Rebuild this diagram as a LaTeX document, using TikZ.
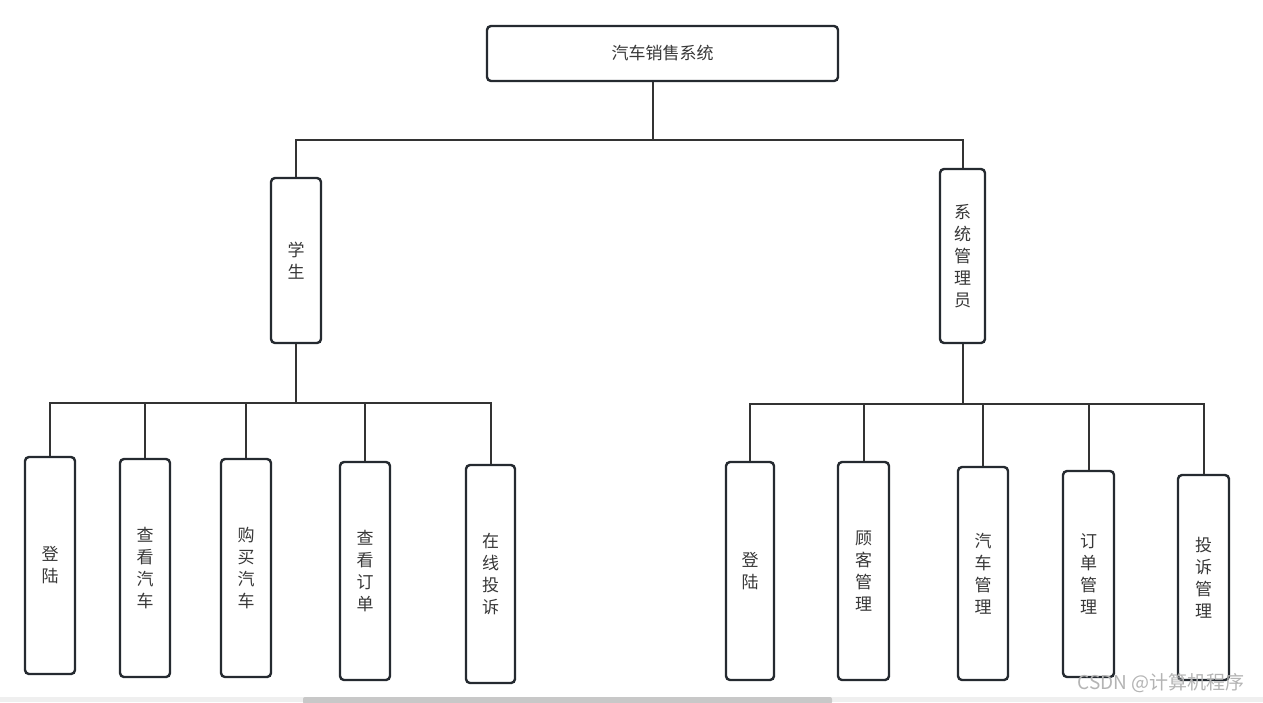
\documentclass[tikz,border=0pt]{standalone}
\usepackage{fontspec}
\setmainfont{Noto Sans CJK SC}
\definecolor{boxline}{HTML}{252A30}
\definecolor{connline}{HTML}{333333}
\definecolor{txt}{HTML}{383838}
\definecolor{wm}{HTML}{B4B4B4}
\definecolor{strip}{HTML}{EFEFEF}
\definecolor{sbar}{HTML}{C8C8C8}
\begin{document}
\begin{tikzpicture}[x=1pt,y=-1pt,
  box/.style={draw=boxline,line width=2.4pt,rounded corners=4pt,fill=white,
    inner sep=0pt,align=center,text=txt,font=\fontsize{17}{22}\selectfont},
  conn/.style={draw=connline,line width=2pt}]
\useasboundingbox (0,0) rectangle (1263,702);
\fill[white] (0,0) rectangle (1263,702);
% nodes
\node[box,minimum width=351pt,minimum height=55pt] (top) at (662.5,53.5) {汽车销售系统};
\node[box,minimum width=50pt,minimum height=165pt] (stu) at (296,260.5) {学\\生};
\node[box,minimum width=45pt,minimum height=174pt] (mgr) at (962.5,256) {系\\统\\管\\理\\员};
\node[box,minimum width=50pt,minimum height=217pt] (c1) at (50,565.5) {登\\陆};
\node[box,minimum width=50pt,minimum height=218pt] (c2) at (145,568) {查\\看\\汽\\车};
\node[box,minimum width=50pt,minimum height=218pt] (c3) at (246,568) {购\\买\\汽\\车};
\node[box,minimum width=50pt,minimum height=218pt] (c4) at (365,571) {查\\看\\订\\单};
\node[box,minimum width=49pt,minimum height=218pt] (c5) at (490.5,574) {在\\线\\投\\诉};
\node[box,minimum width=48pt,minimum height=218pt] (r1) at (750,571) {登\\陆};
\node[box,minimum width=51pt,minimum height=218pt] (r2) at (863.5,571) {顾\\客\\管\\理};
\node[box,minimum width=50pt,minimum height=213pt] (r3) at (983,573.5) {汽\\车\\管\\理};
\node[box,minimum width=51pt,minimum height=206pt] (r4) at (1088.5,574) {订\\单\\管\\理};
\node[box,minimum width=51pt,minimum height=205pt] (r5) at (1203.5,577.5) {投\\诉\\管\\理};
% junctions
\coordinate (jA) at (653,140);
\coordinate (jL) at (296,403);
\coordinate (jR) at (962.5,404);
% connectors
\draw[conn] (top.south -| jA) -- (jA);
\draw[conn] (stu.north) |- (jA);
\draw[conn] (mgr.north) |- (jA);
\draw[conn] (stu.south) -- (jL);
\foreach \n in {c1,c2,c3,c4,c5} \draw[conn] (\n.north) |- (jL);
\draw[conn] (mgr.south) -- (jR);
\foreach \n in {r1,r2,r3,r4,r5} \draw[conn] (\n.north) |- (jR);
% watermark and scroll strip
\node[text=wm,font=\fontsize{19}{21}\selectfont,inner sep=0pt] (wmk) at (1161,683) {CSDN @计算机程序};
\fill[strip] (0,697) rectangle (1263,702);
\fill[sbar,rounded corners=2pt] (303,697) rectangle (832,704);
\end{tikzpicture}
\end{document}
